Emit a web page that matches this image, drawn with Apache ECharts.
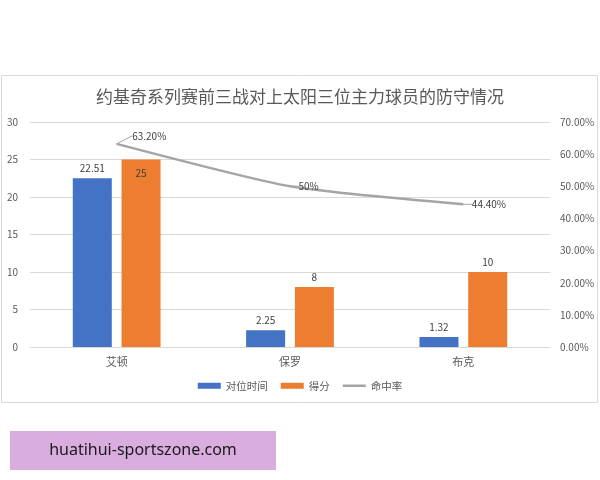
<!DOCTYPE html>
<html>
<head>
<meta charset="utf-8">
<script src="https://cdn.jsdelivr.net/npm/echarts@6/dist/echarts.min.js"></script>
<style>html,body{margin:0;padding:0;background:#fff}#c{width:600px;height:480px}</style>
</head>
<body>
<div id="c"></div>
<script>
const titleText = '约基奇系列赛前三战对上太阳三位主力球员的防守情况';
const categories = ['艾顿', '保罗', '布克'];
const matchupTime = [22.51, 2.25, 1.32];
const points = [25, 8, 10];
const fgPct = [63.2, 50, 44.4];
const fgPctLabels = ['63.20%', '50%', '44.40%'];
const seriesNames = ['对位时间', '得分', '命中率'];
const watermark = 'huatihui-sportszone.com';

const FONT = '"Noto Sans CJK SC", "Noto Sans", sans-serif';
const chart = echarts.init(document.getElementById('c'), null, {renderer: 'canvas'});
chart.setOption({
  backgroundColor: '#fff',
  animation: false,
  textStyle: {fontFamily: FONT},
  graphic: [
    {type: 'rect', z: -10, shape: {x: 1.5, y: 75.5, width: 596, height: 327},
     style: {fill: '#fff', stroke: '#d9d9d9', lineWidth: 1}},
    {type: 'rect', shape: {x: 10, y: 431, width: 266, height: 39},
     style: {fill: '#D9AEDE'}},
    {type: 'text', x: 143, y: 450.5,
     style: {text: watermark, fill: '#1a1a1a', font: '16px "Noto Sans", sans-serif', align: 'center', verticalAlign: 'middle'}}
  ],
  title: {
    text: titleText, left: 'center', top: 83,
    textStyle: {fontSize: 17, fontWeight: 'normal', color: '#595959', fontFamily: FONT}
  },
  legend: {
    bottom: 84, left: 'center', itemWidth: 23, itemHeight: 6, itemGap: 13,
    textStyle: {fontSize: 10.5, color: '#595959', fontFamily: FONT},
    data: [
      {name: seriesNames[0], icon: 'rect'},
      {name: seriesNames[1], icon: 'rect'},
      {name: seriesNames[2], icon: 'path://M0,0L23,0L23,2.5L0,2.5Z'}
    ]
  },
  grid: {left: 30, right: 50, top: 122, bottom: 133, containLabel: false},
  xAxis: {
    type: 'category', data: categories,
    axisTick: {show: false},
    axisLine: {lineStyle: {color: '#d9d9d9'}},
    axisLabel: {color: '#595959', fontSize: 11, margin: 9, fontFamily: FONT}
  },
  yAxis: [
    {type: 'value', min: 0, max: 30, interval: 5,
     axisLabel: {color: '#595959', fontSize: 10, margin: 12, fontFamily: FONT},
     splitLine: {lineStyle: {color: '#d9d9d9'}}, axisLine: {show: false}, axisTick: {show: false}},
    {type: 'value', min: 0, max: 70, interval: 10,
     axisLabel: {color: '#595959', fontSize: 10, margin: 10, fontFamily: FONT,
       formatter: v => v.toFixed(2) + '%'},
     splitLine: {show: false}, axisLine: {show: false}, axisTick: {show: false}}
  ],
  series: [
    {name: seriesNames[0], type: 'bar', data: matchupTime, barWidth: 39, barGap: '25%',
     itemStyle: {color: '#4472C4'},
     label: {show: true, position: 'top', distance: 5, color: '#404040', fontSize: 10}},
    {name: seriesNames[1], type: 'bar', data: points, barWidth: 39,
     itemStyle: {color: '#ED7D31'},
     label: {show: true, position: 'top', distance: 5, color: '#404040', fontSize: 10}},
    {name: seriesNames[2], type: 'line', yAxisIndex: 1, data: fgPct, smooth: 0.2,
     symbol: 'circle', symbolSize: 1, showSymbol: true,
     itemStyle: {color: '#A5A5A5'},
     lineStyle: {color: '#A5A5A5', width: 2.5},
     label: {show: true, position: 'right', distance: 8, color: '#404040', fontSize: 10,
       formatter: p => fgPctLabels[p.dataIndex]},
     labelLine: {show: true, lineStyle: {color: '#A5A5A5', width: 1}},
     labelLayout: p => p.dataIndex === 0 ? {dx: 7, dy: -8} : {}}
  ]
});
// label for first bar of points sits inside top (Excel placement)
chart.setOption({series: [{}, {data: points.map((v, i) => i === 0 ? {value: v, label: {position: 'insideTop', distance: 9}} : v)}]});
</script>
</body>
</html>
